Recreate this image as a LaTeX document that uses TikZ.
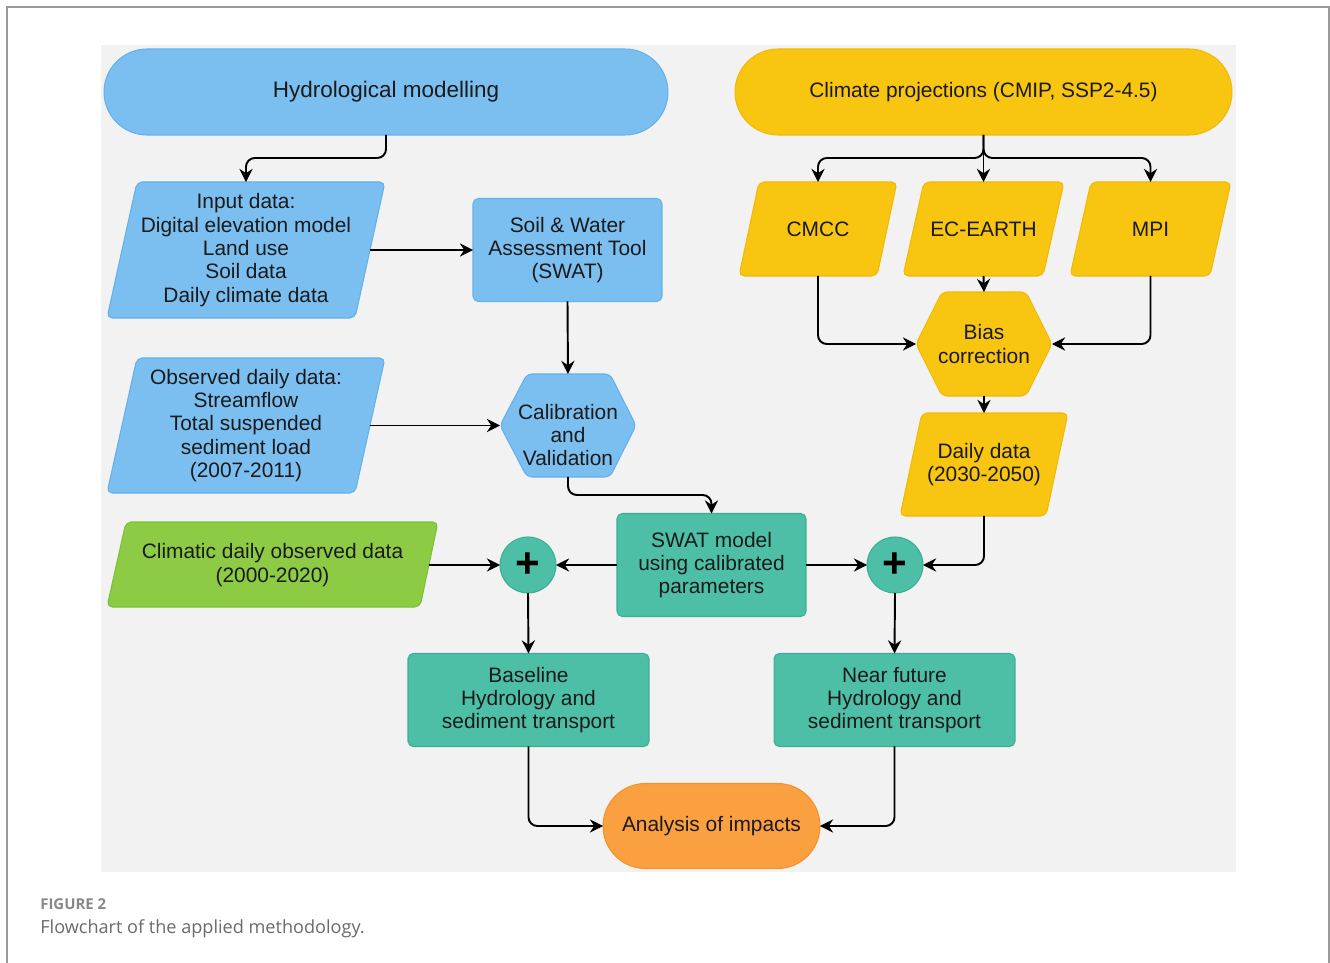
\documentclass[tikz,border=0pt]{standalone}
\usepackage{fontspec}
\setmainfont{Liberation Sans}
\newfontfamily\capfont{Open Sans}
\usetikzlibrary{arrows.meta}
\definecolor{bgray}{HTML}{F2F2F2}
\definecolor{hblue}{HTML}{7BBFF1}
\definecolor{hblueD}{HTML}{62B1EC}
\definecolor{cyel}{HTML}{F8C510}
\definecolor{cyelD}{HTML}{F0BA05}
\definecolor{mteal}{HTML}{4DBFA6}
\definecolor{mtealD}{HTML}{3BAE94}
\definecolor{lgreen}{HTML}{8DCB45}
\definecolor{lgreenD}{HTML}{7CC035}
\definecolor{orng}{HTML}{FBA040}
\definecolor{orngD}{HTML}{F4922C}
\definecolor{txt}{HTML}{1A1A1A}
\definecolor{framegray}{HTML}{9A9A9A}
\definecolor{capgray}{HTML}{6A6A6A}
\tikzset{
  lbl/.style={font=\fontsize{11.9}{13.3}\selectfont, align=center, text=txt},
  hit/.style={lbl, inner sep=0pt, outer sep=0pt},
  boxb/.style={lbl, inner sep=0pt, outer sep=0pt, line width=0.6pt},
  arr/.style={-{Stealth[length=7.5pt,width=7.5pt,inset=2.5pt]}, line width=1.1pt, rounded corners=5pt, black},
  shp/.style={line width=0.6pt, rounded corners=3pt},
}
\begin{document}
\begin{tikzpicture}[x=0.02cm,y=-0.02cm]
\useasboundingbox (0,0) rectangle (1330,963);
\fill[white] (0,0) rectangle (1330,963);
\draw[framegray, line width=0.8pt] (7,963) -- (7,7) -- (1329,7) -- (1329,963);
\fill[bgray] (101,45) rectangle (1236,872);

% ---- top terminators
\node[boxb, fill=hblue, draw=hblueD, rounded corners=0.86cm, minimum width=11.28cm, minimum height=1.72cm, font=\fontsize{12.8}{14}\selectfont] (hydro) at (386,92) {\raisebox{-1.2pt}{Hydrological modelling}};
\node[boxb, fill=cyel, draw=cyelD, rounded corners=0.86cm, minimum width=9.94cm, minimum height=1.72cm] (clim) at (983.5,92) {\raisebox{-1.2pt}{Climate projections (CMIP, SSP2-4.5)}};

% ---- input data parallelogram
\filldraw[shp, fill=hblue, draw=hblueD] (137,182) -- (385,182) -- (355,318) -- (107,318) -- cycle;
\node[hit, minimum width=4.96cm, minimum height=2.72cm] (input) at (246,250) {Input data:\\Digital elevation model\\Land use\\Soil data\\Daily climate data};

% ---- SWAT
\node[boxb, fill=hblue, draw=hblueD, rounded corners=3pt, minimum width=3.78cm, minimum height=2.06cm] (swat) at (567.5,250) {Soil \& Water\\Assessment Tool\\(SWAT)};

% ---- observed data
\filldraw[shp, fill=hblue, draw=hblueD] (137,358) -- (385,358) -- (355,493) -- (107,493) -- cycle;
\node[hit, minimum width=4.96cm, minimum height=2.70cm] (obs) at (246,425.5) {Observed daily data:\\Streamflow\\Total suspended\\sediment load\\(2007-2011)};

% ---- calibration hexagon
\filldraw[shp, fill=hblue, draw=hblueD] (527,374) -- (610,374) -- (636,425.5) -- (610,477) -- (527,477) -- (500,425.5) -- cycle;
\node[hit, minimum width=2.72cm, minimum height=2.06cm] (calib) at (568,425.5) {};
\node[lbl, inner sep=0pt] (calibtxt) at (568,435) {Calibration\\and\\Validation};

% ---- climate models
\filldraw[shp, fill=cyel, draw=cyelD] (759,182) -- (897,182) -- (877,276) -- (739,276) -- cycle;
\node[hit, minimum width=2.76cm, minimum height=1.88cm] (cmcc) at (818,229) {CMCC};
\filldraw[shp, fill=cyel, draw=cyelD] (924,182) -- (1064,182) -- (1043,276) -- (903,276) -- cycle;
\node[hit, minimum width=2.82cm, minimum height=1.88cm] (ec) at (983.5,229) {EC-EARTH};
\filldraw[shp, fill=cyel, draw=cyelD] (1091,182) -- (1231,182) -- (1210,276) -- (1070,276) -- cycle;
\node[hit, minimum width=2.82cm, minimum height=1.88cm] (mpi) at (1150.5,229) {MPI};

% ---- bias correction
\filldraw[shp, fill=cyel, draw=cyelD] (942,292) -- (1026,292) -- (1052,344) -- (1026,396) -- (942,396) -- (916,344) -- cycle;
\node[hit, minimum width=2.72cm, minimum height=2.08cm] (bias) at (984,344) {Bias\\correction};

% ---- daily data
\filldraw[shp, fill=cyel, draw=cyelD] (922,413) -- (1068,413) -- (1046,516) -- (900,516) -- cycle;
\node[hit, minimum width=2.92cm, minimum height=2.06cm] (daily) at (984,464.5) {Daily data\\(2030-2050)};

% ---- climatic observed data (green)
\filldraw[shp, fill=lgreen, draw=lgreenD] (126,522) -- (438,522) -- (420,607) -- (107,607) -- cycle;
\node[hit, minimum width=6.26cm, minimum height=1.70cm] (climobs) at (272.5,565) {Climatic daily observed data\\(2000-2020)};

% ---- SWAT model calibrated
\node[boxb, fill=mteal, draw=mtealD, rounded corners=3pt, minimum width=3.78cm, minimum height=2.06cm] (swatm) at (711.5,565) {SWAT model\\using calibrated\\parameters};

% ---- plus junctions
\node[circle, fill=mteal, draw=mtealD, line width=0.6pt, minimum size=1.12cm, inner sep=0pt, outer sep=0pt, font=\fontsize{24}{24}\selectfont\bfseries, text=black] (plusL) at (528,565) {+};
\node[circle, fill=mteal, draw=mtealD, line width=0.6pt, minimum size=1.12cm, inner sep=0pt, outer sep=0pt, font=\fontsize{24}{24}\selectfont\bfseries, text=black] (plusR) at (895,565) {+};

% ---- results
\node[boxb, fill=mteal, draw=mtealD, rounded corners=3pt, minimum width=4.82cm, minimum height=1.86cm] (base) at (528.5,700) {Baseline\\Hydrology and\\sediment transport};
\node[boxb, fill=mteal, draw=mtealD, rounded corners=3pt, minimum width=4.82cm, minimum height=1.86cm] (near) at (894.5,700) {Near future\\Hydrology and\\sediment transport};
\node[boxb, fill=orng, draw=orngD, rounded corners=0.85cm, minimum width=4.34cm, minimum height=1.70cm] (anal) at (711.5,826) {Analysis of impacts};

% ---- connectors
\draw[arr] (hydro.south) -- ++(0,23) -| (input.north);
\draw[arr] (input.east) -- (input.east -| swat.west);
\draw[arr] (swat.south) -- (calib.north);
\draw[arr] (obs.east) -- (obs.east -| calib.west);
\draw[arr] (calib.south) -- ++(0,18) -| (swatm.north);
\draw[arr] (climobs.east) -- (plusL.west);
\draw[arr] (swatm.west) -- (plusL.east);
\draw[arr] (swatm.east) -- (plusR.west);
\draw[arr] (daily.south) |- (plusR.east);
\draw[arr] (plusL.south) -- (base.north);
\draw[arr] (plusR.south) -- (near.north);
\draw[arr] (base.south) |- (anal.west);
\draw[arr] (near.south) |- (anal.east);

\draw[arr] (clim.south) -- ++(0,23) -| (cmcc.north);
\draw[arr] (clim.south) -- (ec.north);
\draw[arr] (clim.south) -- ++(0,23) -| (mpi.north);
\draw[arr] (ec.south) -- (bias.north);
\draw[arr] (cmcc.south) |- (bias.west);
\draw[arr] (mpi.south) |- (bias.east);
\draw[arr] (bias.south) -- (daily.north);

% ---- caption
\node[anchor=base west, inner sep=0pt, text=capgray!80, font=\capfont\bfseries\fontsize{8.5}{10}\selectfont] (figlab) at (40,909) {FIGURE 2};
\node[anchor=base west, inner sep=0pt, text=capgray, font=\capfont\fontsize{10.3}{12}\selectfont] (figcap) at (40,933) {Flowchart of the applied methodology.};
\end{tikzpicture}
\end{document}
